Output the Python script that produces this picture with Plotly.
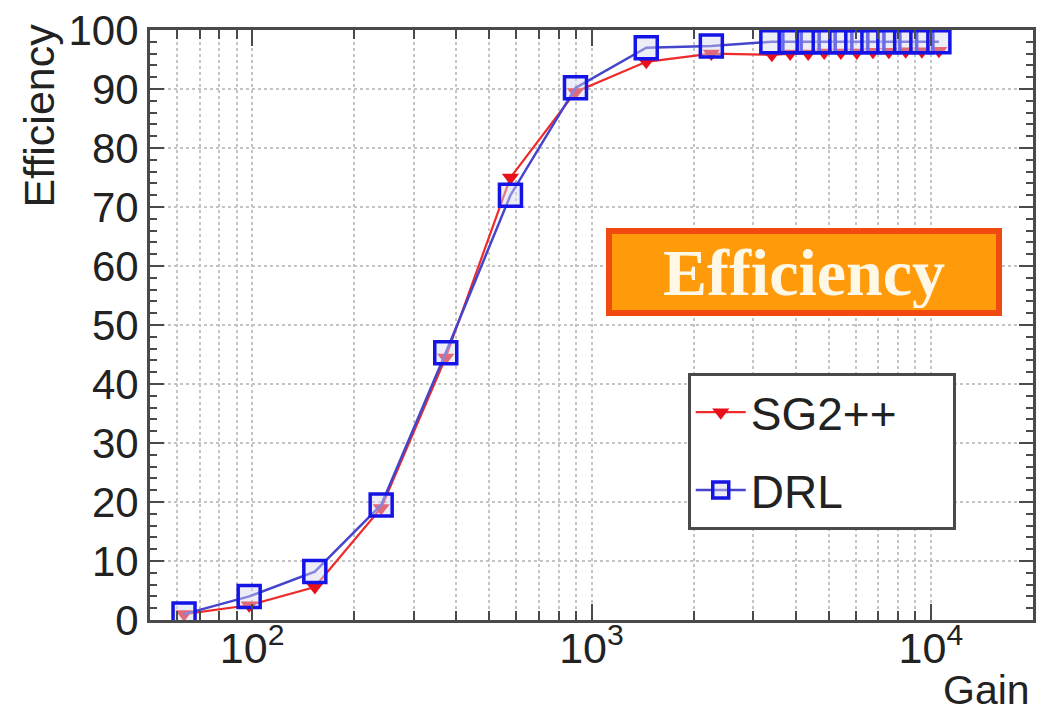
import plotly.graph_objects as go

gain = [63, 98, 153, 240, 372, 577, 897, 1450, 2255, 3400, 3850, 4350, 4850,
        5430, 6050, 6750, 7520, 8430, 9410, 10560]
sg2 = [1.0, 2.5, 5.6, 19.0, 44.5, 75.0, 89.5, 94.6, 96.0, 95.8, 96.0, 96.0,
       96.2, 96.2, 96.2, 96.3, 96.3, 96.4, 96.4, 96.5]
drl = [1.0, 4.0, 8.2, 19.5, 45.3, 72.0, 90.2, 97.0, 97.3, 98.0, 98.0, 98.0,
       98.0, 98.0, 98.0, 98.0, 98.0, 98.0, 98.0, 98.0]

x_major = [100, 1000, 10000]
x_major_text = ["10<sup>2</sup>", "10<sup>3</sup>", "10<sup>4</sup>"]
x_minor = [60, 70, 80, 90, 200, 300, 400, 500, 600, 700, 800, 900,
           2000, 3000, 4000, 5000, 6000, 7000, 8000, 9000, 20000]

FONT = "Liberation Sans"
AX = "#4a4a4a"
GRID = "#c4c4c4"
PAD = "\u00a0" * 4

fig = go.Figure()
fig.add_trace(go.Scatter(
    x=gain, y=sg2, name="SG2++" + PAD, mode="lines+markers", legendgroup="a",
    line=dict(color="#ee2a2a", width=2.2),
    marker=dict(symbol="triangle-down", size=15, color="#e8101a",
                line=dict(width=0)),
))
fig.add_trace(go.Scatter(
    x=gain, y=drl, name="DRL", mode="lines+markers", legendgroup="b",
    line=dict(color="#4444cc", width=2.5),
    marker=dict(symbol="square", size=22, color="rgba(215,215,240,0.45)",
                line=dict(color="#1414e6", width=3.5)),
))

fig.update_layout(
    width=1041, height=714,
    margin=dict(l=150, r=5, t=30, b=94),
    paper_bgcolor="white", plot_bgcolor="white",
    font=dict(family=FONT, color="#222222"),
    showlegend=True,
    legend=dict(
        x=0.609, y=0.419, xanchor="left", yanchor="top",
        bgcolor="white", bordercolor=AX, borderwidth=3,
        font=dict(family=FONT, size=46, color="#222222"),
        itemwidth=50, tracegroupgap=15,
    ),
)

fig.update_xaxes(
    type="log", range=[1.699, 4.301],
    tickvals=x_major, ticktext=x_major_text,
    tickfont=dict(family=FONT, size=43, color="#222222"),
    ticklabelstandoff=-12,
    ticks="inside", ticklen=16, tickwidth=2, tickcolor=AX,
    showline=True, linecolor=AX, linewidth=3, mirror="ticks",
    showgrid=True, gridcolor=GRID, griddash="dot", gridwidth=1.5,
    minor=dict(tickvals=x_minor, ticks="inside", ticklen=9, tickwidth=2,
               tickcolor=AX, showgrid=True, gridcolor=GRID, griddash="dot",
               gridwidth=1.5),
    zeroline=False,
)
fig.update_yaxes(
    range=[0, 100], dtick=10, tick0=0,
    tickfont=dict(family=FONT, size=42, color="#222222"),
    ticks="inside", ticklen=14, tickwidth=2, tickcolor=AX,
    showline=True, linecolor=AX, linewidth=3, mirror="ticks",
    showgrid=True, gridcolor=GRID, griddash="dot", gridwidth=1.5,
    minor=dict(dtick=2, ticks="inside", ticklen=7, tickwidth=2,
               tickcolor=AX, showgrid=False),
    zeroline=False,
)

fig.add_annotation(
    text="Efficiency", xref="paper", yref="paper",
    x=-0.126, y=1.014, xanchor="center", yanchor="top",
    textangle=-90, showarrow=False,
    font=dict(family=FONT, size=43, color="#222222"),
)
fig.add_annotation(
    text="Gain", xref="paper", yref="paper",
    x=0.999, y=-0.118, xanchor="right", yanchor="middle",
    showarrow=False,
    font=dict(family=FONT, size=41, color="#222222"),
)
fig.add_annotation(
    text="<b>Efficiency</b>", xref="paper", yref="paper",
    x=0.741, y=0.59, xanchor="center", yanchor="middle",
    showarrow=False, width=380, height=72, align="center",
    bgcolor="#ff9a0a", bordercolor="#f04a10", borderwidth=6, borderpad=2,
    font=dict(family="Liberation Serif", size=66, color="#fff8e6"),
)

fig.write_html("out.html")
